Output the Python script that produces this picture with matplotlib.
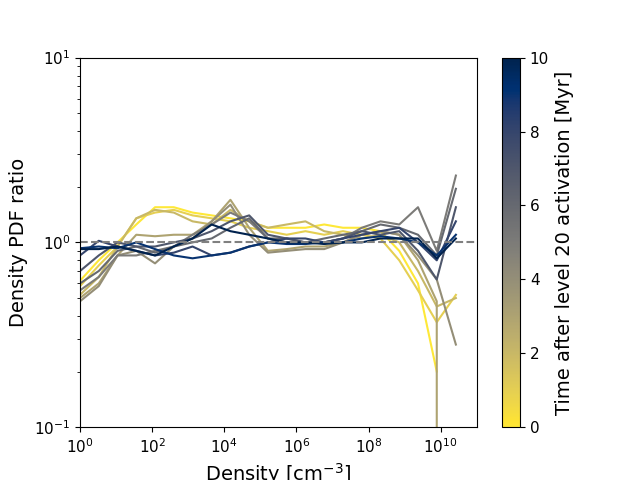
import numpy as np
import matplotlib
matplotlib.use("Agg")
import matplotlib.pyplot as plt
from matplotlib.colors import Normalize
from matplotlib.cm import ScalarMappable

log_density = [0.0, 0.52, 1.04, 1.56, 2.08, 2.60, 3.12, 3.65, 4.17, 4.69, 5.21,
               5.73, 6.25, 6.77, 7.29, 7.81, 8.33, 8.85, 9.37, 9.89, 10.42]

times = [0, 1, 2, 3, 4, 5, 6, 7, 8, 9, 10]

nan = np.nan
r0 = [0.62, 0.80, 1.00, 1.25, 1.55, 1.55, 1.45, 1.40, 1.35, 1.30, 1.20, 1.20, 1.20, 1.25, 1.20, 1.20, 1.15, 0.90, 0.60, 0.20, nan]
r1 = [0.58, 0.75, 0.95, 1.35, 1.45, 1.50, 1.40, 1.35, 1.30, 1.20, 1.15, 1.10, 1.15, 1.10, 1.15, 1.10, 1.05, 0.80, 0.55, 0.37, 0.52]
r2 = [0.52, 0.65, 0.95, 1.35, 1.50, 1.45, 1.30, 1.25, 1.50, 1.30, 1.20, 1.25, 1.30, 1.15, 1.10, 1.05, 1.10, 1.00, 0.70, 0.45, 0.50]
r3 = [0.50, 0.60, 0.85, 1.10, 1.08, 1.10, 1.10, 1.30, 1.70, 1.20, 0.90, 0.92, 0.95, 0.95, 1.00, 1.10, 1.15, 1.10, 0.80, 0.48, 0.00]
r4 = [0.48, 0.58, 0.85, 0.90, 0.77, 0.95, 1.05, 1.30, 1.60, 1.10, 0.88, 0.90, 0.92, 0.92, 1.00, 1.10, 1.15, 1.10, 0.85, 0.63, 0.28]
r5 = [0.55, 0.65, 0.85, 0.85, 0.90, 0.95, 1.10, 1.25, 1.45, 1.30, 1.05, 1.00, 1.00, 1.00, 1.05, 1.20, 1.30, 1.25, 1.55, 0.90, 2.30]
r6 = [0.60, 0.70, 0.90, 0.95, 0.88, 0.95, 1.00, 1.05, 1.20, 1.35, 1.05, 1.05, 1.00, 1.05, 1.10, 1.15, 1.25, 1.20, 1.10, 0.85, 1.95]
r7 = [0.70, 0.85, 1.00, 0.95, 0.95, 1.00, 1.05, 1.15, 1.30, 1.40, 1.10, 1.05, 1.00, 1.00, 1.05, 1.15, 1.10, 1.15, 0.90, 0.63, 1.55]
r8 = [0.85, 1.02, 0.95, 0.90, 0.85, 0.88, 0.95, 0.85, 0.88, 0.95, 1.00, 1.05, 1.05, 1.00, 1.05, 1.10, 1.15, 1.20, 1.00, 0.80, 1.30]
r9 = [0.93, 0.95, 0.93, 1.00, 0.92, 0.85, 0.82, 0.85, 0.88, 0.95, 1.00, 0.98, 0.98, 1.00, 1.00, 1.05, 1.08, 1.05, 1.00, 0.85, 1.10]
r10 = [0.92, 0.92, 0.95, 0.90, 0.85, 0.95, 1.05, 1.25, 1.15, 1.10, 1.05, 1.00, 1.00, 0.98, 1.00, 1.00, 1.05, 1.05, 1.05, 0.82, 1.05]

ratios = [r0, r1, r2, r3, r4, r5, r6, r7, r8, r9, r10]

fig, ax = plt.subplots(figsize=(6.4, 4.8), dpi=100)
cmap = plt.get_cmap("cividis_r")
norm = Normalize(vmin=0, vmax=10)
x = 10.0 ** np.array(log_density)
for t, r in zip(times, ratios):
    ax.plot(x, r, color=cmap(norm(t)), lw=1.5)
ax.axhline(1.0, color="gray", ls="--", lw=1.5)
ax.set_xscale("log")
ax.set_yscale("log")
ax.set_xlim(1, 10 ** 11)
ax.set_ylim(0.1, 10)
ax.set_xticks([1, 1e2, 1e4, 1e6, 1e8, 1e10])
ax.tick_params(labelsize=11)
ax.set_xlabel(r"Density [cm$^{-3}$]", fontsize=14)
ax.set_ylabel("Density PDF ratio", fontsize=14)
sm = ScalarMappable(norm=norm, cmap=cmap)
cb = fig.colorbar(sm, ax=ax)
cb.set_label("Time after level 20 activation [Myr]", fontsize=14)
cb.ax.tick_params(labelsize=11)
fig.savefig("out.png", dpi=100)
